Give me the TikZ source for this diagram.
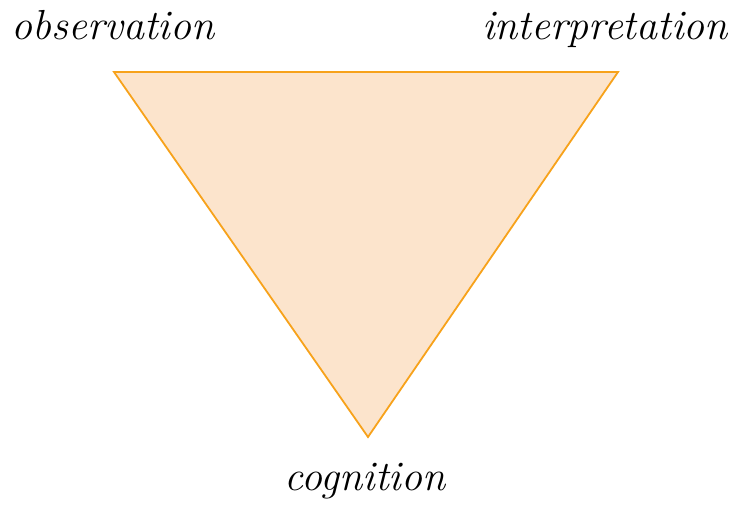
\documentclass[tikz,border=0pt]{standalone}
\usepackage{fontspec}
\definecolor{trifill}{HTML}{FCE4CC}
\definecolor{tridraw}{HTML}{F7A21B}
\tikzset{
  lbl/.style={font=\fontsize{42}{48}\selectfont\itshape, inner sep=0pt, anchor=base},
  tri/.style={draw=tridraw, fill=trifill, line width=1.8pt, line join=miter}
}
\begin{document}
\begin{tikzpicture}[x=1pt,y=-1pt]
\useasboundingbox (0,0) rectangle (734,512);
\coordinate (A) at (114,72);
\coordinate (B) at (618,72);
\coordinate (C) at (368,437);
\filldraw[tri] (A) -- (B) -- (C) -- cycle;
\node[lbl] (obs) at (113,39) {observation};
\node[lbl] (int) at (605,39) {interpretation};
\node[lbl] (cog) at (365,490) {cognition};
\end{tikzpicture}
\end{document}
